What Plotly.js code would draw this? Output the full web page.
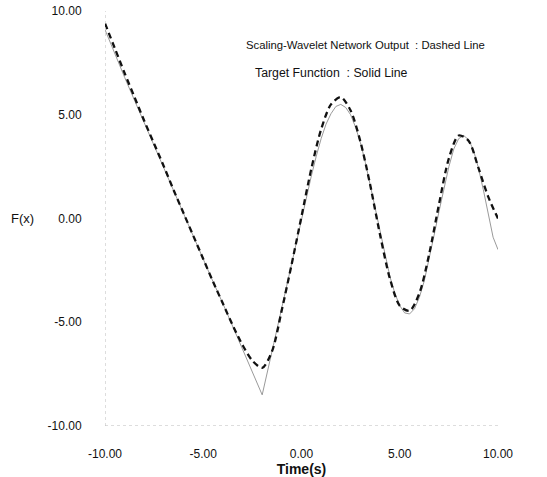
<!DOCTYPE html>
<html>
<head>
<meta charset="utf-8">
<script src="https://cdn.plot.ly/plotly-3.0.1.min.js"></script>
<style>html,body{margin:0;padding:0;background:#fff;}#chart{width:547px;height:477px;}</style>
</head>
<body>
<div id="chart"></div>
<script>
// Target function (solid line)
var targetX = [-10,-9.5,-9,-8.5,-8,-7.5,-7,-6.5,-6,-5.5,-5,-4.5,-4,-3.5,-3,-2.5,-2,-1.5,-1,-0.5,0,
  0.25,0.5,0.75,1,1.25,1.5,1.75,2,2.25,2.5,2.75,3,3.25,3.5,3.75,4,4.25,4.5,4.75,5,5.25,5.5,5.75,6,
  6.25,6.5,6.75,7,7.25,7.5,7.75,8,8.25,8.5,8.75,9,9.25,9.5,9.75,10];
var targetY = [9.1,7.9,6.8,5.7,4.6,3.5,2.4,1.35,0.25,-0.85,-1.95,-3.05,-4.1,-5.2,-6.3,-7.4,-8.5,-6.4,-4.25,-2.1,0,
  1.05,2.05,3.0,3.85,4.55,5.05,5.4,5.5,5.35,5.0,4.4,3.65,2.7,1.6,0.5,-0.7,-1.8,-2.8,-3.6,-4.2,-4.55,-4.6,-4.35,-3.8,
  -3.0,-1.95,-0.8,0.35,1.5,2.5,3.35,3.85,4.0,3.8,3.3,2.45,1.4,0.3,-0.9,-1.5];

// Scaling-wavelet network output (dashed line)
var netX = [-10,-9.5,-9,-8.5,-8,-7.5,-7,-6.5,-6,-5.5,-5,-4.5,-4,-3.5,-3,-2.5,-2,-1.5,-1,-0.5,0,
  0.5,1,1.5,2,2.5,3,3.5,4,4.5,5,5.5,6,6.5,7,7.5,8,8.5,9,9.5,10];
var netY = [9.4,8.2,7.0,5.85,4.7,3.6,2.5,1.35,0.25,-0.85,-1.95,-3.05,-4.1,-5.15,-6.1,-6.85,-7.2,-6.4,-4.4,-2.2,0.1,
  2.4,4.3,5.5,5.85,5.2,3.7,1.6,-0.8,-2.9,-4.2,-4.45,-3.6,-1.7,0.7,2.9,4.0,3.75,2.45,1.05,0.0];

var xTicks = [-10,-5,0,5,10];
var xTickText = ['-10.00','-5.00','0.00','5.00','10.00'];
var yTicks = [-10,-5,0,5,10];
var yTickText = ['-10.00','-5.00','0.00','5.00','10.00'];

var font = "'Liberation Sans', Arial, sans-serif";

var data = [
  {x: targetX, y: targetY, mode: 'lines', line: {color: '#9a9a9a', width: 1}, hoverinfo: 'skip'},
  {x: netX, y: netY, mode: 'lines', line: {color: '#111', width: 2.3, dash: '6px,4px', shape: 'spline', smoothing: 0.8}, hoverinfo: 'skip'}
];

var layout = {
  width: 547, height: 477,
  margin: {l: 105, r: 49, t: 11, b: 51},
  paper_bgcolor: '#fff', plot_bgcolor: '#fff',
  showlegend: false,
  font: {family: font, size: 12, color: '#111'},
  xaxis: {
    range: [-10, 10], tickvals: xTicks, ticktext: xTickText,
    showgrid: false, zeroline: false, showline: false,
    ticks: 'outside', ticklen: 17, tickcolor: 'rgba(0,0,0,0)',
    tickfont: {size: 12},
    title: {text: 'Time(s)', font: {size: 14, family: font, weight: 'bold'}, standoff: 1}
  },
  yaxis: {
    range: [-10, 10], tickvals: yTicks, ticktext: yTickText,
    showgrid: false, zeroline: false, showline: false,
    ticks: 'outside', ticklen: 20, tickcolor: 'rgba(0,0,0,0)',
    tickfont: {size: 12}
  },
  shapes: [
    {type: 'line', xref: 'x', yref: 'y', x0: -10, x1: -10, y0: -10, y1: 10, line: {color: '#bbb', width: 1, dash: 'dot'}},
    {type: 'line', xref: 'x', yref: 'y', x0: -10, x1: 10, y0: -10, y1: -10, line: {color: '#bbb', width: 1, dash: 'dot'}}
  ],
  annotations: [
    {xref: 'paper', yref: 'y', x: -0.21, y: 0, text: 'F(x)', showarrow: false, xanchor: 'center', yanchor: 'middle', font: {size: 13}},
    {xref: 'paper', yref: 'paper', x: 0.354, y: 0.918, text: 'Scaling-Wavelet Network Output\u00a0\u00a0: Dashed Line', showarrow: false, xanchor: 'left', yanchor: 'middle', font: {size: 11.3}},
    {xref: 'paper', yref: 'paper', x: 0.376, y: 0.85, text: 'Target Function\u00a0\u00a0: Solid Line', showarrow: false, xanchor: 'left', yanchor: 'middle', font: {size: 12.3}}
  ]
};

Plotly.newPlot('chart', data, layout, {staticPlot: true, displayModeBar: false});
</script>
</body>
</html>
